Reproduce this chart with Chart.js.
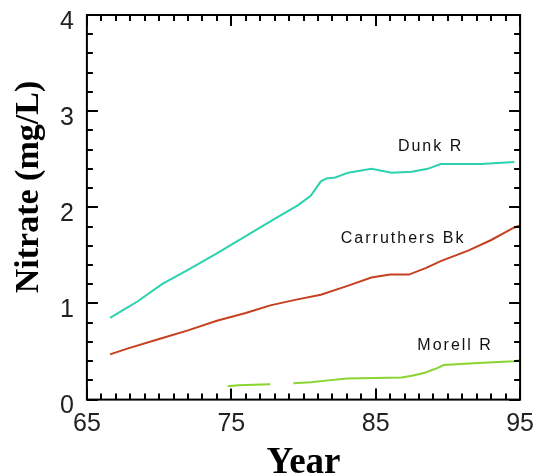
<!DOCTYPE html>
<html>
<head>
<meta charset="utf-8">
<script src="https://cdn.jsdelivr.net/npm/chart.js@4.4.1/dist/chart.umd.min.js"></script>
<style>
  html, body { margin: 0; padding: 0; background: #fff; }
  #wrap { width: 536px; height: 474px; }
</style>
</head>
<body>
<div id="wrap"><canvas id="chart" width="536" height="474"></canvas></div>
<script>
// values (year, mg/L)
const dunkYears = [66.6, 67.5, 68.5, 70.2, 72, 74, 76, 78, 79.6, 80.5, 81.2, 81.6, 82.2, 83.1, 84.7, 86.1, 87.5, 88.6, 89.5, 92.3, 94.6]
const dunkValues = [0.85, 0.93, 1.02, 1.2, 1.35, 1.52, 1.7, 1.88, 2.02, 2.12, 2.27, 2.3, 2.31, 2.36, 2.4, 2.36, 2.37, 2.4, 2.45, 2.45, 2.47]

const carruthersYears = [66.6, 67.8, 70, 72, 74, 76, 77.7, 79.5, 81.2, 83, 84.7, 86, 87.3, 88.5, 89.5, 91.4, 93, 94.6, 95]
const carruthersValues = [0.47, 0.53, 0.63, 0.72, 0.82, 0.9, 0.98, 1.04, 1.09, 1.18, 1.27, 1.3, 1.3, 1.37, 1.44, 1.55, 1.66, 1.79, 1.81]

const morellYears = [74.75, 75.5, 77.7, 78.5, 79.3, 80.5, 81.7, 83, 86.8, 87.6, 88.4, 89.3, 89.7, 92.1, 94.6, 95]
const morellValues = [0.14, 0.15, 0.16, null, 0.17, 0.18, 0.2, 0.22, 0.23, 0.25, 0.28, 0.33, 0.36, 0.38, 0.4, 0.41]

const seriesNames = ["Dunk R", "Carruthers Bk", "Morell R"]
const seriesColors = ["#2cd2ae", "#c63f1e", "#8ad42f"]
// where each name is written, in data units
const nameSpots = [[88.8, 2.63], [86.9, 1.67], [90.5, 0.56]]

const xMajor = [65, 75, 85, 95]

function toPoints(xs, ys){
    return xs.map((x, i) => ({x: x, y: ys[i]}))
}

const frame = {
    id: 'frame',
    afterDraw(chart){
        const ctx = chart.ctx
        const a = chart.chartArea
        const xs = chart.scales.x
        const ys = chart.scales.y
        ctx.save()
        ctx.strokeStyle = '#000'
        ctx.lineWidth = 2
        ctx.strokeRect(a.left, a.top, a.right - a.left, a.bottom - a.top)
        ctx.beginPath()
        // inward ticks on x, every year
        for(let yr = 65; yr <= 95; yr++){
            const px = Math.round(xs.getPixelForValue(yr))
            const len = xMajor.includes(yr) ? 11 : 6
            ctx.moveTo(px, a.bottom); ctx.lineTo(px, a.bottom - len)
            ctx.moveTo(px, a.top); ctx.lineTo(px, a.top + len)
        }
        // inward ticks on y, every 0.2
        for(let k = 0; k <= 20; k++){
            const py = Math.round(ys.getPixelForValue(k * 0.2))
            const len = k % 5 == 0 ? 11 : 6
            ctx.moveTo(a.left, py); ctx.lineTo(a.left + len, py)
            ctx.moveTo(a.right, py); ctx.lineTo(a.right - len, py)
        }
        ctx.stroke()

        // series names
        ctx.fillStyle = '#111'
        ctx.font = '16px "Liberation Sans", Arial, sans-serif'
        ctx.letterSpacing = '2px'
        ctx.textAlign = 'center'
        ctx.textBaseline = 'middle'
        seriesNames.forEach((n, i) => {
            ctx.fillText(n, xs.getPixelForValue(nameSpots[i][0]), ys.getPixelForValue(nameSpots[i][1]))
        })

        // y title (sits a bit above the middle in the original)
        ctx.letterSpacing = '0px'
        ctx.font = 'bold 34px "Liberation Serif", "Times New Roman", serif'
        ctx.translate(29, 187)
        ctx.rotate(-Math.PI / 2)
        ctx.fillStyle = '#000'
        ctx.fillText('Nitrate (mg/L)', 0, 0)
        ctx.restore()
    }
}

const config = {
    type: 'line',
    data: {
        datasets: [
            {label: seriesNames[0], data: toPoints(dunkYears, dunkValues), borderColor: seriesColors[0]},
            {label: seriesNames[1], data: toPoints(carruthersYears, carruthersValues), borderColor: seriesColors[1]},
            {label: seriesNames[2], data: toPoints(morellYears, morellValues), borderColor: seriesColors[2]}
        ]
    },
    options: {
        responsive: false,
        animation: false,
        spanGaps: false,
        elements: {
            line: {borderWidth: 2, tension: 0, fill: false},
            point: {radius: 0}
        },
        layout: {padding: {left: 55, right: 14, top: 0, bottom: -12}},
        plugins: {legend: {display: false}, tooltip: {enabled: false}},
        scales: {
            x: {
                type: 'linear',
                min: 65,
                max: 95,
                grid: {display: false},
                border: {display: false},
                ticks: {
                    stepSize: 10,
                    padding: 2,
                    color: '#222',
                    font: {family: '"Liberation Sans", Arial, sans-serif', size: 25}
                },
                title: {
                    display: true,
                    text: 'Year',
                    color: '#000',
                    padding: {top: 0, bottom: 0},
                    font: {family: '"Liberation Serif", "Times New Roman", serif', size: 37, weight: 'bold'}
                }
            },
            y: {
                min: 0,
                max: 4,
                grid: {display: false},
                border: {display: false},
                ticks: {
                    stepSize: 1,
                    padding: 5,
                    labelOffset: 7,
                    color: '#222',
                    font: {family: '"Liberation Sans", Arial, sans-serif', size: 25, lineHeight: 0.8}
                }
            }
        }
    },
    plugins: [frame]
}

new Chart(document.getElementById('chart'), config)
</script>
</body>
</html>
